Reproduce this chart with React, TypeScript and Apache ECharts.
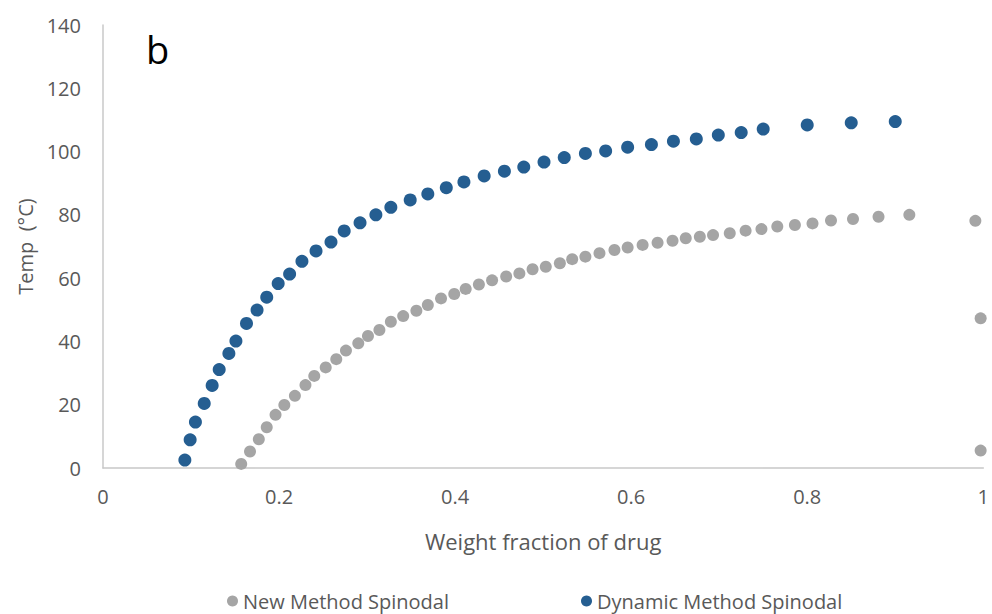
import React, { useEffect, useRef } from "react";
import * as echarts from "echarts";

const newMethodX = [0.157, 0.167, 0.177, 0.186, 0.196, 0.206, 0.218, 0.230, 0.240, 0.253, 0.265, 0.276, 0.290, 0.301, 0.314, 0.327, 0.341, 0.356, 0.369, 0.384, 0.399, 0.412, 0.427, 0.442, 0.458, 0.473, 0.488, 0.503, 0.519, 0.533, 0.548, 0.564, 0.581, 0.596, 0.613, 0.630, 0.647, 0.662, 0.678, 0.693, 0.712, 0.730, 0.748, 0.766, 0.786, 0.806, 0.827, 0.852, 0.881, 0.916, 0.991, 0.997, 0.997];
const newMethodY = [1.3, 5.2, 9.1, 12.9, 16.8, 19.9, 22.8, 26.2, 29.1, 31.8, 34.4, 37.1, 39.4, 41.7, 43.6, 46.2, 48.0, 49.7, 51.5, 53.6, 55.0, 56.6, 58.0, 59.3, 60.5, 61.5, 62.8, 63.6, 64.7, 66.0, 66.8, 67.9, 68.9, 69.7, 70.5, 71.2, 71.8, 72.6, 73.1, 73.6, 74.2, 75.0, 75.5, 76.3, 76.8, 77.3, 78.2, 78.7, 79.4, 80.0, 78.1, 47.3, 5.5];

const dynamicX = [0.093, 0.099, 0.105, 0.115, 0.124, 0.132, 0.143, 0.151, 0.163, 0.175, 0.186, 0.199, 0.212, 0.226, 0.242, 0.259, 0.274, 0.292, 0.310, 0.327, 0.349, 0.369, 0.390, 0.410, 0.433, 0.456, 0.478, 0.501, 0.524, 0.548, 0.571, 0.596, 0.623, 0.648, 0.674, 0.699, 0.725, 0.750, 0.800, 0.850, 0.900];
const dynamicY = [2.5, 8.9, 14.5, 20.4, 26.1, 31.1, 36.2, 40.1, 45.7, 49.9, 54.0, 58.3, 61.3, 65.3, 68.6, 71.4, 74.9, 77.5, 80.0, 82.4, 84.7, 86.6, 88.6, 90.4, 92.3, 93.8, 95.1, 96.7, 98.1, 99.4, 100.2, 101.4, 102.2, 103.3, 104.0, 105.2, 106.0, 107.1, 108.4, 109.1, 109.5];

const seriesNames = ["New Method Spinodal", "Dynamic Method Spinodal"];
const xTicks = { min: 0, max: 1, interval: 0.2 };
const yTicks = { min: 0, max: 140, interval: 20 };

const FONT = "'Open Sans', sans-serif";
const TEXT = "#595959";

export default function App() {
  const ref = useRef<HTMLDivElement>(null);
  useEffect(() => {
    const chart = echarts.init(ref.current!, undefined, { renderer: "svg" });
    const zip = (xs: number[], ys: number[]) => xs.map((x, i) => [x, ys[i]]);
    chart.setOption({
      animation: false,
      backgroundColor: "#ffffff",
      textStyle: { fontFamily: FONT },
      grid: { left: 103, right: 7, top: 25, bottom: 146, containLabel: false },
      graphic: [
        {
          type: "text",
          left: 146,
          top: 30,
          style: { text: "b", fontSize: 38, fill: "#000", fontFamily: FONT },
        },
      ],
      legend: {
        data: seriesNames,
        left: 222,
        top: 586,
        icon: "circle",
        itemWidth: 11,
        itemHeight: 11,
        itemGap: 132,
        textStyle: { color: TEXT, fontSize: 20, fontFamily: FONT },
      },
      xAxis: {
        type: "value",
        ...xTicks,
        name: "Weight fraction of drug",
        nameLocation: "middle",
        nameGap: 62,
        nameTextStyle: { color: TEXT, fontSize: 22, fontFamily: FONT },
        axisLine: { show: true, onZero: false, lineStyle: { color: "#c8c8c8", width: 1.5 } },
        axisTick: { show: false },
        splitLine: { show: false },
        axisLabel: { color: TEXT, fontSize: 20, margin: 18, fontFamily: FONT },
      },
      yAxis: {
        type: "value",
        ...yTicks,
        name: "Temp  (°C)",
        nameLocation: "middle",
        nameGap: 66,
        nameTextStyle: { color: TEXT, fontSize: 20, fontFamily: FONT },
        axisLine: { show: true, lineStyle: { color: "#c8c8c8", width: 1.5 } },
        axisTick: { show: false },
        splitLine: { show: false },
        axisLabel: { color: TEXT, fontSize: 20, margin: 22, fontFamily: FONT },
      },
      series: [
        {
          name: seriesNames[0],
          type: "scatter",
          symbolSize: 12,
          itemStyle: { color: "#a5a5a5", opacity: 1 },
          data: zip(newMethodX, newMethodY),
        },
        {
          name: seriesNames[1],
          type: "scatter",
          symbolSize: 13,
          itemStyle: { color: "#255e91", opacity: 1 },
          data: zip(dynamicX, dynamicY),
        },
      ],
    });
    return () => chart.dispose();
  }, []);
  return (
    <div
      ref={ref}
      style={{ position: "fixed", left: 0, top: 0, width: 992, height: 614 }}
    />
  );
}
